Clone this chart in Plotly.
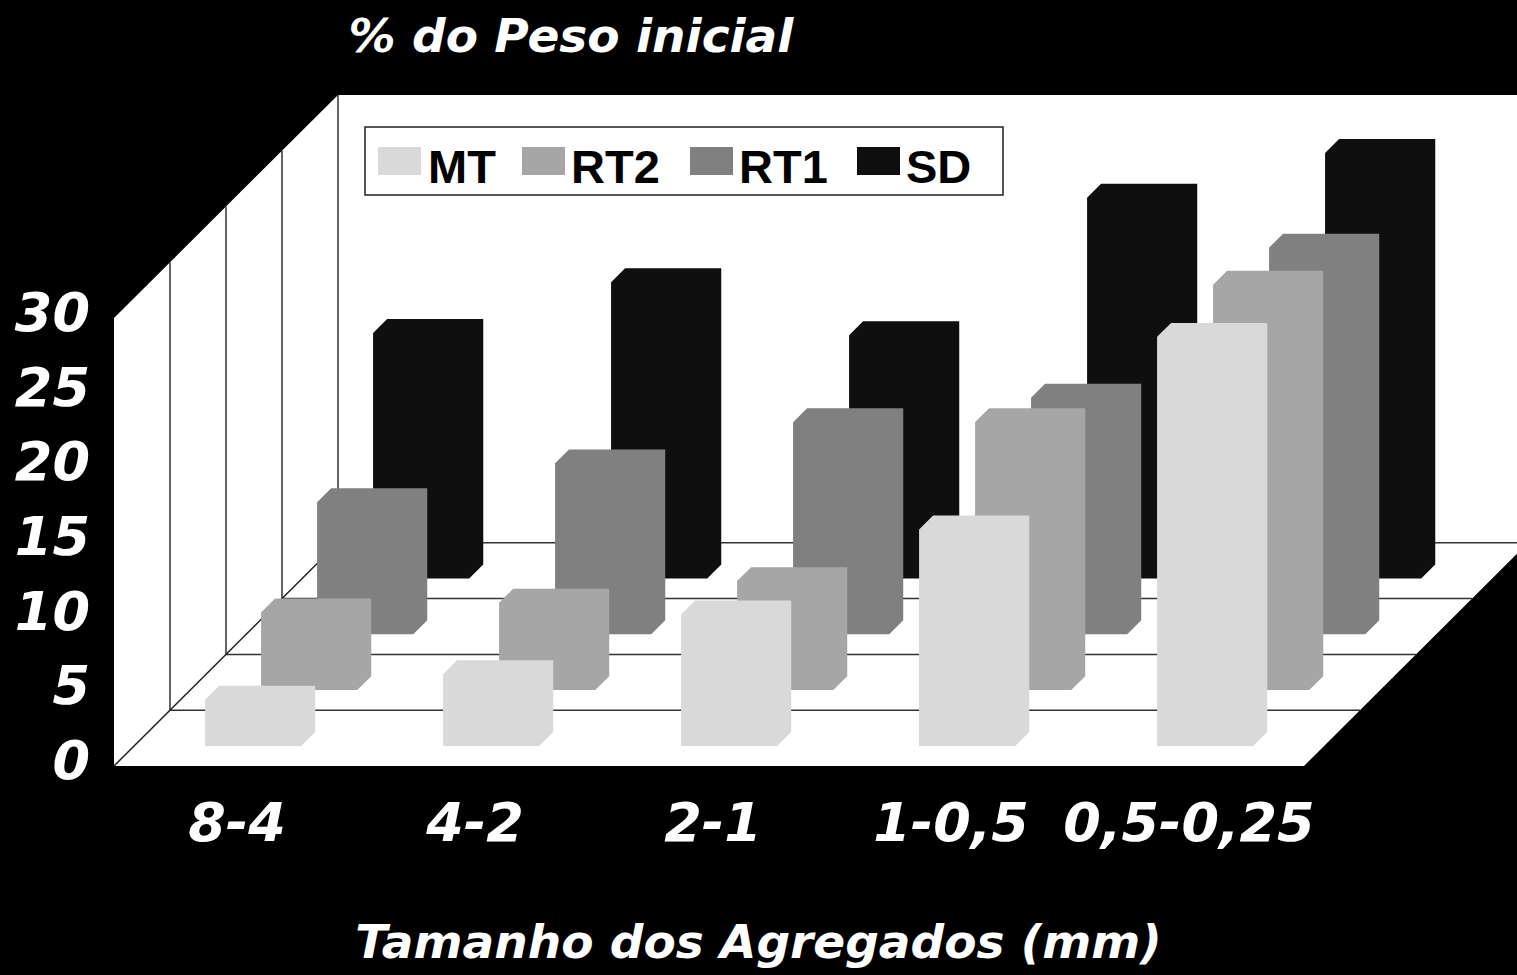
import plotly.graph_objects as go

categories = ["8-4", "4-2", "2-1", "1-0,5", "0,5-0,25"]
series_names = ["MT", "RT2", "RT1", "SD"]
MT = [3.1, 4.8, 8.8, 14.5, 27.4]
RT2 = [5.2, 5.85, 7.3, 17.95, 27.15]
RT1 = [8.85, 11.45, 14.2, 15.85, 25.9]
SD = [16.45, 19.85, 16.3, 25.5, 28.5]
y_ticks = [0, 5, 10, 15, 20, 25, 30]
colors = ["#D9D9D9", "#A6A6A6", "#808080", "#0F0F0F"]
title_text = "% do Peso inicial"
x_title_text = "Tamanho dos Agregados (mm)"

W, H = 1517, 975
OX, OY = 114, 766          # pixel of category 0 / value 0 at front of floor
PX_CAT, PX_VAL = 238, 14.93
DX = 56 / PX_CAT           # oblique shift per depth unit, category units
DY = 55.8 / PX_VAL         # oblique shift per depth unit, value units
YMAX = 30
NCAT = len(categories)
NDEPTH = len(series_names)


def proj(c, d, v):
    return c + d * DX, v + d * DY


def path(points):
    xs, ys = zip(*[proj(*p) for p in points])
    return list(xs), list(ys)


fig = go.Figure()


def poly(points, fill=None, line=None, width=1.5, name=None):
    xs, ys = path(points)
    fig.add_trace(go.Scatter(
        x=xs, y=ys, mode="lines", hoverinfo="skip", showlegend=False, name=name,
        fill="toself" if fill else None, fillcolor=fill,
        line=dict(color=line or "rgba(0,0,0,0)", width=width if line else 0),
    ))


# walls and floor
poly([(0, NDEPTH, 0), (NCAT, NDEPTH, 0), (NCAT, NDEPTH, YMAX), (0, NDEPTH, YMAX)], fill="#FFFFFF")
poly([(0, 0, 0), (0, NDEPTH, 0), (0, NDEPTH, YMAX), (0, 0, YMAX)], fill="#FFFFFF")
poly([(0, 0, 0), (NCAT, 0, 0), (NCAT, NDEPTH, 0), (0, NDEPTH, 0)], fill="#FFFFFF")

# gridlines: depth lines on floor and side wall
for d in range(1, NDEPTH + 1):
    poly([(0, d, YMAX), (0, d, 0), (NCAT, d, 0)], line="#333333", width=1.5)
poly([(0, 0, 0), (0, NDEPTH, 0)], line="#222222", width=1.5)

# bars, from the back series to the front one
C0, C1 = 0.298, 0.702
D0, D1 = 0.36, 0.61
all_values = [MT, RT2, RT1, SD]
for s in reversed(range(NDEPTH)):
    xs, ys = [], []
    for i, v in enumerate(all_values[s]):
        a, b = i + C0, i + C1
        f, g = s + D0, s + D1
        px, py = path([(a, f, 0), (b, f, 0), (b, g, 0), (b, g, v), (a, g, v), (a, f, v), (a, f, 0)])
        xs += px + [None]
        ys += py + [None]
    fig.add_trace(go.Scatter(
        x=xs, y=ys, mode="lines", fill="toself", fillcolor=colors[s], name=series_names[s],
        line=dict(width=0, color=colors[s]), hoverinfo="name", showlegend=False,
    ))

tick_font = dict(family="DejaVu Sans", size=54, color="white", weight="bold", style="italic")

fig.update_layout(
    width=W, height=H, autosize=False,
    paper_bgcolor="black", plot_bgcolor="black",
    margin=dict(l=0, r=0, t=0, b=0),
    showlegend=False,
    title=dict(
        text=title_text, x=571 / W, xanchor="center", xref="paper",
        y=1 - 36 / H, yanchor="middle", yref="paper",
        font=dict(family="DejaVu Sans", size=47, color="white", weight="bold", style="italic"),
    ),
    xaxis=dict(
        range=[-OX / PX_CAT, (W - OX) / PX_CAT], domain=[0, 1], anchor="free",
        position=(H - OY) / H, showgrid=False, zeroline=False, showline=False, ticks="",
        tickmode="array", tickvals=[i + 0.5 for i in range(NCAT)], ticktext=categories,
        tickangle=0, tickfont=tick_font, ticklabelstandoff=20, ticklabelshift=4,
        title=dict(text=x_title_text, standoff=72,
                   font=dict(family="DejaVu Sans", size=47, color="white", weight="bold", style="italic")),
    ),
    yaxis=dict(
        range=[(OY - H) / PX_VAL, OY / PX_VAL], domain=[0, 1], anchor="free",
        position=OX / W, showgrid=False, zeroline=False, showline=False, ticks="",
        tickmode="array", tickvals=y_ticks, ticktext=[str(t) for t in y_ticks],
        tickfont=tick_font, ticklabelstandoff=24, ticklabelshift=-6,
    ),
)

# legend box
LX0, LX1, LY0, LY1 = 365, 1003, 127, 195
fig.add_shape(type="rect", xref="paper", yref="paper",
              x0=LX0 / W, x1=LX1 / W, y0=1 - LY0 / H, y1=1 - LY1 / H,
              fillcolor="white", line=dict(color="#222222", width=1.5))
swatch_left = [378, 522, 690, 857]
text_left = [428, 571, 739, 906]
for s, name in enumerate(series_names):
    fig.add_shape(type="rect", xref="paper", yref="paper",
                  x0=swatch_left[s] / W, x1=(swatch_left[s] + 43) / W,
                  y0=1 - 147 / H, y1=1 - 175 / H,
                  fillcolor=colors[s], line=dict(width=0))
    fig.add_annotation(text=name, xref="paper", yref="paper", showarrow=False,
                       x=text_left[s] / W, y=1 - 166 / H, xanchor="left", yanchor="middle",
                       font=dict(family="Liberation Sans", size=47, color="black", weight="bold"),
                       xshift=-2)

fig.write_html(
    "out.html",
    config={"displayModeBar": False},
    post_script="document.body.style.margin='0';document.body.style.background='black';"
                "document.documentElement.style.overflow='hidden';",
)
